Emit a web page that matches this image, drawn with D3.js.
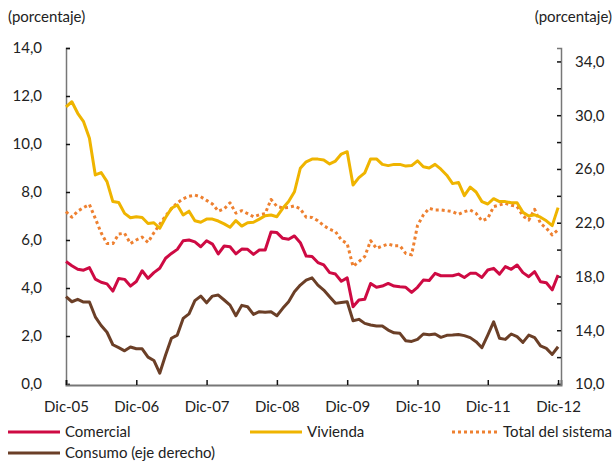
<!DOCTYPE html>
<html>
<head>
<meta charset="utf-8">
<script src="https://cdnjs.cloudflare.com/ajax/libs/d3/7.8.5/d3.min.js"></script>
<style>
  body { margin: 0; background: #fff; }
  svg text { font-family: Lato, "Open Sans", sans-serif; fill: #222; }
</style>
</head>
<body>
<div id="chart"></div>
<script>
// monthly data, Dic-05 .. Dic-12 (85 months)
var comercial = [5.1, 4.93, 4.78, 4.74, 4.85, 4.37, 4.24, 4.17, 3.87, 4.4,
  4.36, 4.08, 4.27, 4.72, 4.4, 4.64, 4.82, 5.24, 5.44, 5.61,
  5.97, 6.0, 5.92, 5.72, 5.97, 5.83, 5.42, 5.75, 5.72, 5.42,
  5.62, 5.61, 5.4, 5.58, 5.58, 6.33, 6.31, 6.07, 6.03, 6.17,
  5.89, 5.33, 5.31, 5.06, 4.96, 4.64, 4.58, 4.28, 4.42, 3.22,
  3.5, 3.53, 4.19, 4.03, 4.08, 4.19, 4.08, 4.05, 4.03, 3.82,
  4.03, 4.33, 4.31, 4.61, 4.51, 4.51, 4.51, 4.58, 4.44, 4.61,
  4.61, 4.44, 4.75, 4.82, 4.58, 4.89, 4.78, 4.96, 4.64, 4.47,
  4.68, 4.26, 4.22, 3.92, 4.54];

var vivienda = [11.55, 11.76, 11.28, 10.93, 10.24, 8.71, 8.81, 8.43, 7.6, 7.56,
  7.11, 6.93, 6.97, 6.94, 6.69, 6.72, 6.49, 6.94, 7.32, 7.46,
  7.04, 7.2, 6.8, 6.74, 6.87, 6.87, 6.79, 6.67, 6.53, 6.81,
  6.58, 6.72, 6.74, 6.87, 7.01, 7.04, 6.97, 7.32, 7.6, 8.01,
  8.99, 9.26, 9.37, 9.37, 9.33, 9.17, 9.29, 9.58, 9.68, 8.29,
  8.6, 8.8, 9.38, 9.38, 9.15, 9.1, 9.15, 9.15, 9.08, 9.1,
  9.3, 9.05, 9.0, 9.15, 8.95, 8.7, 8.35, 8.4, 7.85, 8.2,
  8.0, 7.6, 7.5, 7.72, 7.6, 7.6, 7.55, 7.55, 7.15, 7.0,
  7.05, 6.95, 6.8, 6.6, 7.35];

var totalSistema = [7.18, 6.95, 7.2, 7.35, 7.48, 6.9, 6.3, 5.85, 5.85, 6.25,
  6.28, 5.85, 6.0, 6.12, 5.9, 6.3, 6.65, 7.0, 7.3, 7.55,
  7.72, 7.82, 7.87, 7.8, 7.65, 7.5, 7.2, 7.3, 7.55, 7.12,
  7.22, 7.1, 6.97, 7.05, 7.1, 7.69, 7.4, 7.34, 7.36, 7.42,
  7.3, 6.95, 6.94, 6.8, 6.6, 6.45, 6.35, 6.0, 5.85, 4.9,
  5.1, 5.31, 5.97, 5.65, 5.75, 5.83, 5.76, 5.76, 5.44, 5.38,
  6.6, 7.04, 7.32, 7.25, 7.25, 7.22, 7.18, 7.07, 7.18, 7.25,
  7.11, 6.8, 6.9, 7.39, 7.46, 7.53, 7.45, 7.4, 7.0, 6.83,
  7.28, 6.69, 6.49, 6.21, 6.42];

// right axis
var consumo = [16.5, 16.12, 16.3, 16.1, 16.1, 15.0, 14.35, 13.85, 12.92, 12.7,
  12.47, 12.75, 12.62, 12.62, 12.0, 11.75, 10.8, 12.16, 13.4, 13.64,
  14.88, 15.22, 16.2, 16.54, 16.04, 16.54, 16.62, 16.25, 15.87, 15.08,
  15.85, 15.75, 15.18, 15.38, 15.33, 15.38, 15.08, 15.63, 16.12, 16.86,
  17.36, 17.73, 17.9, 17.36, 16.99, 16.49, 16.0, 16.07, 16.12, 14.71,
  14.81, 14.51, 14.39, 14.31, 14.31, 14.01, 13.81, 13.77, 13.22, 13.17,
  13.32, 13.72, 13.67, 13.72, 13.47, 13.62, 13.64, 13.69, 13.6, 13.45,
  13.15, 12.7, 13.64, 14.63, 13.4, 13.32, 13.72, 13.52, 13.1, 13.64,
  13.45, 12.83, 12.65, 12.2, 12.77];

var xTickLabels = ["Dic-05", "Dic-06", "Dic-07", "Dic-08", "Dic-09", "Dic-10", "Dic-11", "Dic-12"];
var leftTicks = [0, 2, 4, 6, 8, 10, 12, 14];
var rightTicks = [10, 12, 14, 16, 18, 20, 22, 24, 26, 28, 30, 32, 34];

var width = 614, height = 463;

var svg = d3.select("#chart")
  .append("svg")
    .attr("width", width)
    .attr("height", height);

// scales
var x = d3.scaleLinear()
    .domain([0, 84.5])
    .range([66, 561]);
var yL = d3.scaleLinear()
    .domain([0, 14])
    .range([384, 48]);
var yR = d3.scaleLinear()
    .domain([10, 35])
    .range([384, 48]);

var fmt = function(v) { return d3.format(".1f")(v).replace(".", ","); };

// left axis
var gL = svg.append("g")
  .attr("transform", "translate(66,0)")
  .call(d3.axisLeft(yL).tickValues(leftTicks).tickSize(-4).tickPadding(24).tickFormat(fmt));

// right axis
var gR = svg.append("g")
  .attr("transform", "translate(561,0)")
  .call(d3.axisRight(yR).tickValues(rightTicks).tickSize(-4).tickPadding(14)
    .tickFormat(function(v) { return (v - 10) % 4 === 0 ? fmt(v) : ""; }));

// bottom axis
var gB = svg.append("g")
  .attr("transform", "translate(0,385)")
  .call(d3.axisBottom(x).tickValues(d3.range(0, 85, 12)).tickSize(-5).tickPadding(16)
    .tickFormat(function(d, i) { return xTickLabels[i]; }));

[gL, gR, gB].forEach(function(g) {
  g.select(".domain").attr("stroke", "#777").attr("stroke-width", 1.5);
  g.selectAll(".tick line").attr("stroke", "#111").attr("stroke-width", 1.5);
  g.selectAll("text").style("font-size", "15px").attr("fill", "#222");
});
gB.select(".domain").attr("stroke-width", 2);

// lines
var lineL = d3.line()
  .x(function(d, i) { return x(i); })
  .y(function(d) { return yL(d); });
var lineR = d3.line()
  .x(function(d, i) { return x(i); })
  .y(function(d) { return yR(d); });

var series = [
  {data: totalSistema, line: lineL, color: "#EE8030", dash: "3,3"},
  {data: vivienda, line: lineL, color: "#EFB400", dash: null},
  {data: comercial, line: lineL, color: "#CE0A43", dash: null},
  {data: consumo, line: lineR, color: "#6B3F27", dash: null}
];

series.forEach(function(s) {
  svg.append("path")
    .datum(s.data)
    .attr("fill", "none")
    .attr("stroke", s.color)
    .attr("stroke-width", 3)
    .attr("stroke-linejoin", "round")
    .attr("stroke-dasharray", s.dash)
    .attr("d", s.line);
});

// axis titles
svg.append("text")
  .attr("x", 8).attr("y", 22)
  .style("font-size", "15px")
  .text("(porcentaje)");
svg.append("text")
  .attr("x", 612).attr("y", 22)
  .attr("text-anchor", "end")
  .style("font-size", "15px")
  .text("(porcentaje)");

// legend
var legend = [
  {label: "Comercial", color: "#CE0A43", dash: null, x: 8, y: 432},
  {label: "Vivienda", color: "#EFB400", dash: null, x: 250, y: 432},
  {label: "Total del sistema", color: "#EE8030", dash: "3,3", x: 452, y: 432},
  {label: "Consumo (eje derecho)", color: "#6B3F27", dash: null, x: 8, y: 453}
];
var lg = svg.append("g").selectAll("g")
  .data(legend)
  .enter()
  .append("g")
    .attr("transform", function(d) { return "translate(" + d.x + "," + d.y + ")"; });
lg.append("line")
  .attr("x1", 0).attr("x2", d => d.x === 452 ? 47 : 52)
  .attr("y1", 0).attr("y2", 0)
  .attr("stroke", d => d.color)
  .attr("stroke-width", 3)
  .attr("stroke-dasharray", d => d.dash);
lg.append("text")
  .attr("x", d => d.x === 452 ? 51 : 57)
  .attr("y", 5)
  .style("font-size", "15px")
  .text(d => d.label);
</script>
</body>
</html>
